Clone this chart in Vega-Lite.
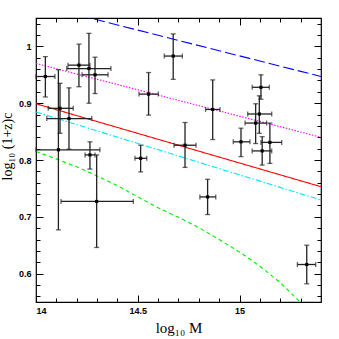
{
  "$schema": "https://vega.github.io/schema/vega-lite/v6.json",
  "width": 285,
  "height": 284,
  "autosize": {"type": "none"},
  "padding": {"left": 36, "top": 18, "right": 18, "bottom": 37},
  "background": "white",
  "config": {
    "view": {"stroke": "black", "strokeWidth": 1.2},
    "axis": {
      "grid": false,
      "domain": false,
      "tickColor": "black",
      "tickWidth": 1,
      "labelFont": "Liberation Sans",
      "labelFontWeight": "bold",
      "labelFontSize": 9,
      "labelColor": "black",
      "titleFont": "Liberation Serif",
      "titleFontWeight": "normal",
      "titleFontSize": 15,
      "titleColor": "black"
    }
  },
  "datasets": {
    "pts": [
      {"x": 14.046, "y": 0.947, "xlo": 14.0, "xhi": 14.093, "ylo": 0.911, "yhi": 0.982},
      {"x": 14.211, "y": 0.967, "xlo": 14.157, "xhi": 14.265, "ylo": 0.929, "yhi": 1.004},
      {"x": 14.26, "y": 0.961, "xlo": 14.151, "xhi": 14.368, "ylo": 0.9, "yhi": 1.023},
      {"x": 14.29, "y": 0.95, "xlo": 14.226, "xhi": 14.354, "ylo": 0.917, "yhi": 0.981},
      {"x": 14.553, "y": 0.916, "xlo": 14.506, "xhi": 14.601, "ylo": 0.879, "yhi": 0.954},
      {"x": 14.674, "y": 0.983, "xlo": 14.63, "xhi": 14.719, "ylo": 0.942, "yhi": 1.022},
      {"x": 14.118, "y": 0.891, "xlo": 14.06, "xhi": 14.183, "ylo": 0.847, "yhi": 0.935},
      {"x": 14.162, "y": 0.873, "xlo": 14.053, "xhi": 14.274, "ylo": 0.819, "yhi": 0.927},
      {"x": 14.11, "y": 0.818, "xlo": 14.0, "xhi": 14.314, "ylo": 0.677, "yhi": 0.959},
      {"x": 14.265, "y": 0.809, "xlo": 14.241, "xhi": 14.29, "ylo": 0.784, "yhi": 0.832},
      {"x": 14.298, "y": 0.727, "xlo": 14.123, "xhi": 14.478, "ylo": 0.646, "yhi": 0.809},
      {"x": 14.514, "y": 0.803, "xlo": 14.486, "xhi": 14.544, "ylo": 0.779, "yhi": 0.826},
      {"x": 14.732, "y": 0.826, "xlo": 14.678, "xhi": 14.786, "ylo": 0.787, "yhi": 0.866},
      {"x": 14.868, "y": 0.889, "xlo": 14.833, "xhi": 14.904, "ylo": 0.836, "yhi": 0.941},
      {"x": 14.843, "y": 0.735, "xlo": 14.805, "xhi": 14.883, "ylo": 0.704, "yhi": 0.766},
      {"x": 15.105, "y": 0.928, "xlo": 15.062, "xhi": 15.146, "ylo": 0.907, "yhi": 0.95},
      {"x": 15.097, "y": 0.881, "xlo": 15.04, "xhi": 15.158, "ylo": 0.847, "yhi": 0.913},
      {"x": 15.079, "y": 0.865, "xlo": 15.027, "xhi": 15.133, "ylo": 0.829, "yhi": 0.899},
      {"x": 15.007, "y": 0.832, "xlo": 14.969, "xhi": 15.051, "ylo": 0.806, "yhi": 0.856},
      {"x": 15.149, "y": 0.831, "xlo": 15.105, "xhi": 15.207, "ylo": 0.794, "yhi": 0.865},
      {"x": 15.111, "y": 0.816, "xlo": 15.062, "xhi": 15.158, "ylo": 0.791, "yhi": 0.841},
      {"x": 15.33, "y": 0.616, "xlo": 15.284, "xhi": 15.374, "ylo": 0.582, "yhi": 0.65}
    ],
    "curves": [
      {"s": "blue", "x": 14.0, "y": 1.074},
      {"s": "blue", "x": 15.4, "y": 0.947},
      {"s": "magenta", "x": 14.0, "y": 0.97},
      {"s": "magenta", "x": 15.4, "y": 0.84},
      {"s": "red", "x": 14.0, "y": 0.899},
      {"s": "red", "x": 15.4, "y": 0.753},
      {"s": "cyan", "x": 14.0, "y": 0.8845},
      {"s": "cyan", "x": 15.4, "y": 0.7296},
      {"s": "green", "x": 14.0, "y": 0.815},
      {"s": "green", "x": 14.1, "y": 0.802},
      {"s": "green", "x": 14.2, "y": 0.788},
      {"s": "green", "x": 14.3, "y": 0.772},
      {"s": "green", "x": 14.4, "y": 0.755},
      {"s": "green", "x": 14.5, "y": 0.735},
      {"s": "green", "x": 14.6, "y": 0.716},
      {"s": "green", "x": 14.7, "y": 0.699},
      {"s": "green", "x": 14.8, "y": 0.681},
      {"s": "green", "x": 14.9, "y": 0.66},
      {"s": "green", "x": 15.0, "y": 0.638},
      {"s": "green", "x": 15.1, "y": 0.613},
      {"s": "green", "x": 15.2, "y": 0.584},
      {"s": "green", "x": 15.3, "y": 0.549}
    ]
  },
  "layer": [
    {
      "data": {"name": "curves"},
      "mark": {"type": "line", "clip": true, "strokeWidth": 1.1},
      "encoding": {
        "x": {"field": "x", "type": "quantitative",
          "scale": {"domain": [14, 15.4], "nice": false, "zero": false},
          "axis": {"orient": "bottom", "values": [14, 14.5, 15], "format": "~g", "tickSize": -7, "labelPadding": 11, "title": "log₁₀  M", "titlePadding": 5}},
        "y": {"field": "y", "type": "quantitative",
          "scale": {"domain": [0.55, 1.05], "nice": false, "zero": false},
          "axis": {"orient": "left", "values": [0.6, 0.7, 0.8, 0.9, 1], "format": "~g", "tickSize": -7, "labelPadding": 12, "title": "log₁₀ (1+z)c", "titleFontSize": 14, "titleX": -29, "titleY": 128, "titleBaseline": "middle"}},
        "detail": {"field": "s"},
        "color": {"field": "s", "type": "nominal", "legend": null,
          "scale": {"domain": ["blue", "magenta", "red", "cyan", "green"], "range": ["#0000ff", "#ff00ff", "#ff0000", "#00e5ff", "#00ee00"]}},
        "strokeDash": {"field": "s", "type": "nominal", "legend": null,
          "scale": {"domain": ["blue", "magenta", "red", "cyan", "green"], "range": [[11, 4], [1.5, 1.5], [1, 0], [6, 2, 1.5, 2], [4, 3]]}}
      }
    },
    {
      "data": {"name": "pts"},
      "mark": {"type": "rule", "color": "#222", "strokeWidth": 1.3},
      "encoding": {
        "x": {"field": "xlo", "type": "quantitative",
          "axis": {"orient": "bottom", "values": [14.1, 14.2, 14.3, 14.4, 14.6, 14.7, 14.8, 14.9, 15.1, 15.2, 15.3], "tickSize": -4, "labels": false, "title": null}},
        "x2": {"field": "xhi"},
        "y": {"field": "y", "type": "quantitative",
          "axis": {"orient": "left", "values": [0.56, 0.58, 0.62, 0.64, 0.66, 0.68, 0.72, 0.74, 0.76, 0.78, 0.82, 0.84, 0.86, 0.88, 0.92, 0.94, 0.96, 0.98, 1.02, 1.04], "tickSize": -4, "labels": false, "title": null}}
      }
    },
    {
      "data": {"name": "pts"},
      "mark": {"type": "rule", "color": "#222", "strokeWidth": 1.3},
      "encoding": {
        "x": {"field": "x", "type": "quantitative",
          "axis": {"orient": "top", "values": [14, 14.5, 15], "tickSize": -7, "labels": false, "title": null}},
        "y": {"field": "ylo", "type": "quantitative",
          "axis": {"orient": "right", "values": [0.6, 0.7, 0.8, 0.9, 1], "tickSize": -7, "labels": false, "title": null}},
        "y2": {"field": "yhi"}
      }
    },
    {
      "data": {"name": "pts"},
      "mark": {"type": "tick", "orient": "vertical", "color": "#222", "thickness": 1.3, "size": 5},
      "encoding": {
        "x": {"field": "xlo", "type": "quantitative",
          "axis": {"orient": "top", "values": [14.1, 14.2, 14.3, 14.4, 14.6, 14.7, 14.8, 14.9, 15.1, 15.2, 15.3], "tickSize": -4, "labels": false, "title": null}},
        "y": {"field": "y", "type": "quantitative",
          "axis": {"orient": "right", "values": [0.56, 0.58, 0.62, 0.64, 0.66, 0.68, 0.72, 0.74, 0.76, 0.78, 0.82, 0.84, 0.86, 0.88, 0.92, 0.94, 0.96, 0.98, 1.02, 1.04], "tickSize": -4, "labels": false, "title": null}}
      }
    },
    {
      "data": {"name": "pts"},
      "mark": {"type": "tick", "orient": "vertical", "color": "#222", "thickness": 1.3, "size": 5},
      "encoding": {
        "x": {"field": "xhi", "type": "quantitative", "axis": null},
        "y": {"field": "y", "type": "quantitative", "axis": null}
      }
    },
    {
      "data": {"name": "pts"},
      "mark": {"type": "tick", "orient": "horizontal", "color": "#222", "thickness": 1.3, "size": 5},
      "encoding": {
        "x": {"field": "x", "type": "quantitative", "axis": null},
        "y": {"field": "ylo", "type": "quantitative", "axis": null}
      }
    },
    {
      "data": {"name": "pts"},
      "mark": {"type": "tick", "orient": "horizontal", "color": "#222", "thickness": 1.3, "size": 5},
      "encoding": {
        "x": {"field": "x", "type": "quantitative", "axis": null},
        "y": {"field": "yhi", "type": "quantitative", "axis": null}
      }
    },
    {
      "data": {"name": "pts"},
      "mark": {"type": "square", "color": "black", "filled": true, "opacity": 1, "size": 10},
      "encoding": {
        "x": {"field": "x", "type": "quantitative", "axis": null},
        "y": {"field": "y", "type": "quantitative", "axis": null}
      }
    }
  ],
  "resolve": {"axis": {"x": "independent", "y": "independent"}}
}
